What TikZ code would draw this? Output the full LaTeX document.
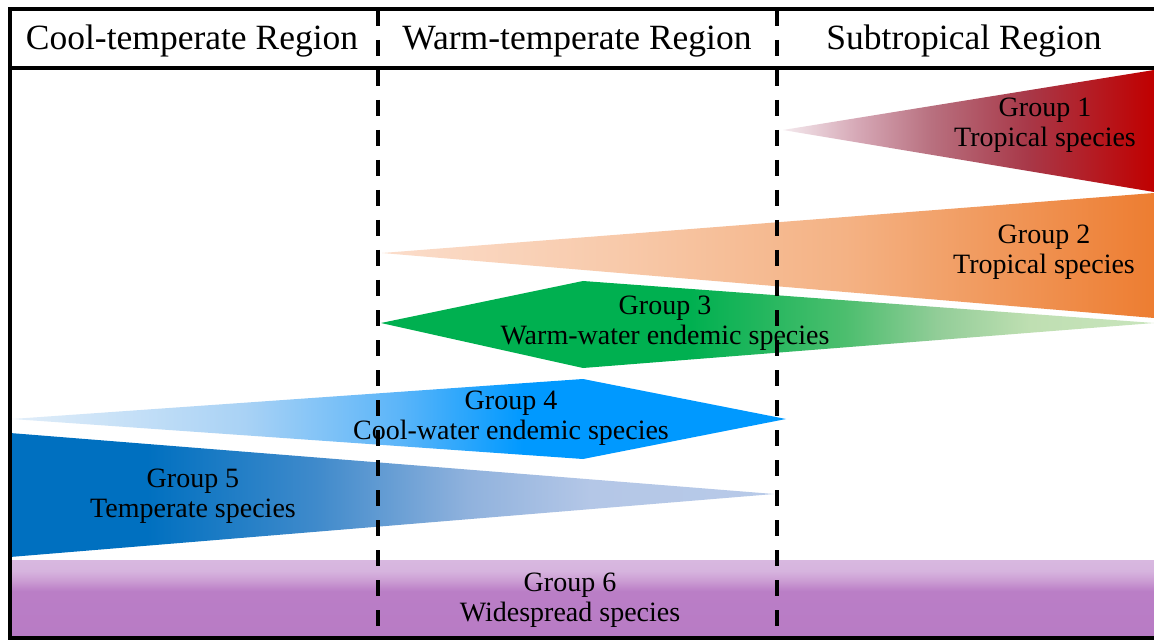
\documentclass[tikz,border=0pt]{standalone}
\usepackage{fontspec}
\setmainfont{Liberation Serif}
% colours
\definecolor{ga1}{HTML}{F4EAEE}\definecolor{ga2}{HTML}{D6A8B6}\definecolor{ga3}{HTML}{B8707F}\definecolor{ga4}{HTML}{A83848}\definecolor{ga5}{HTML}{C00000}
\definecolor{gb1}{HTML}{FBDDCB}\definecolor{gb2}{HTML}{F8CAAB}\definecolor{gb3}{HTML}{F4B284}\definecolor{gb4}{HTML}{ED7D31}
\definecolor{gc1}{HTML}{00B050}\definecolor{gc2}{HTML}{4CBE6E}\definecolor{gc3}{HTML}{92CD98}\definecolor{gc4}{HTML}{BFDFB2}\definecolor{gc5}{HTML}{C9E5BD}
\definecolor{gd1}{HTML}{E2EEF9}\definecolor{gd2}{HTML}{A9D2F5}\definecolor{gd3}{HTML}{5BB5F9}\definecolor{gd4}{HTML}{0099FF}
\definecolor{ge1}{HTML}{0070C0}\definecolor{ge2}{HTML}{3F8ACB}\definecolor{ge3}{HTML}{90B2DD}\definecolor{ge4}{HTML}{B4C7E7}\definecolor{ge5}{HTML}{B8CAE8}
\definecolor{gf1}{HTML}{B87BC5}\definecolor{gf2}{HTML}{BA7EC6}\definecolor{gf3}{HTML}{CC9ED4}\definecolor{gf4}{HTML}{D6B4DE}\definecolor{gf5}{HTML}{D8B8E0}
% shadings (bounding box maps onto 25bp..75bp)
\pgfdeclarehorizontalshading{shgone}{100bp}{color(0bp)=(ga1); color(25bp)=(ga1); color(35bp)=(ga2); color(45bp)=(ga3); color(58bp)=(ga4); color(75bp)=(ga5); color(100bp)=(ga5)}
\pgfdeclarehorizontalshading{shgtwo}{100bp}{color(0bp)=(gb1); color(25bp)=(gb1); color(40bp)=(gb2); color(55bp)=(gb3); color(75bp)=(gb4); color(100bp)=(gb4)}
\pgfdeclarehorizontalshading{shgthree}{100bp}{color(0bp)=(gc1); color(45bp)=(gc1); color(55bp)=(gc2); color(61bp)=(gc3); color(67bp)=(gc4); color(75bp)=(gc5); color(100bp)=(gc5)}
\pgfdeclarehorizontalshading{shgfour}{100bp}{color(0bp)=(gd1); color(25bp)=(gd1); color(40bp)=(gd2); color(50bp)=(gd3); color(58bp)=(gd4); color(100bp)=(gd4)}
\pgfdeclarehorizontalshading{shgfive}{100bp}{color(0bp)=(ge1); color(34bp)=(ge1); color(45bp)=(ge2); color(55bp)=(ge3); color(63bp)=(ge4); color(75bp)=(ge5); color(100bp)=(ge5)}
\pgfdeclareverticalshading{shgsix}{100bp}{color(0bp)=(gf1); color(25bp)=(gf1); color(55bp)=(gf2); color(62bp)=(gf3); color(68bp)=(gf4); color(75bp)=(gf5); color(100bp)=(gf5)}
\tikzset{
  frameline/.style={line width=1.75pt},
  divider/.style={line width=2pt, dash pattern=on 8pt off 7pt},
  hdr/.style={font=\fontsize{17.75}{20}\selectfont, anchor=base, inner sep=0pt},
  lbl/.style={font=\fontsize{14}{15}\selectfont, align=center, inner sep=0pt}
}
\begin{document}
\begin{tikzpicture}[x=0.5pt,y=-0.5pt]
\useasboundingbox (0,0) rectangle (1154,641);
\fill[white] (0,0) rectangle (1154,641);
% band shapes
\shade[shading=shgsix] (10,560) rectangle (1154,638);
\shade[shading=shgone] (783,130) -- (1154,70) -- (1154,192) -- cycle;
\shade[shading=shgtwo] (382,253) -- (1154,193) -- (1154,318) -- cycle;
\shade[shading=shgthree] (381,323) -- (583,281) -- (1154,323) -- (583,368) -- cycle;
\shade[shading=shgfour] (12,419) -- (583,379) -- (786,419) -- (583,459) -- cycle;
\shade[shading=shgfive] (10,433) -- (774,494) -- (10,557) -- cycle;
% frame
\coordinate (tl) at (10,9);
\coordinate (tr) at (1154,9);
\coordinate (hl) at (10,68);
\coordinate (hr) at (1154,68);
\coordinate (bl) at (10,638);
\coordinate (br) at (1154,638);
\draw[frameline] (tr) -- (tl) -- (bl) -- (br);
\draw[frameline] (hl) -- (hr);
% headers
\node[hdr] (h1) at (192,50) {Cool-temperate Region};
\node[hdr] (h2) at (577,50) {Warm-temperate Region};
\node[hdr] (h3) at (964,50) {Subtropical Region};
% labels
\node[lbl] (g1) at (1045,125) {Group 1\\Tropical species};
\node[lbl] (g2) at (1044,252) {Group 2\\Tropical species};
\node[lbl] (g3) at (665,323) {Group 3\\Warm-water endemic species};
\node[lbl] (g4) at (511,418) {Group 4\\Cool-water endemic species};
\node[lbl] (g5) at (193,496) {Group 5\\Temperate species};
\node[lbl] (g6) at (570,600) {Group 6\\Widespread species};
% dividers
\coordinate (d1t) at (378,10);
\coordinate (d1b) at (378,638);
\coordinate (d2t) at (777,10);
\coordinate (d2b) at (777,638);
\draw[divider] (d1t) -- (d1b);
\draw[divider] (d2t) -- (d2b);
\end{tikzpicture}
\end{document}
